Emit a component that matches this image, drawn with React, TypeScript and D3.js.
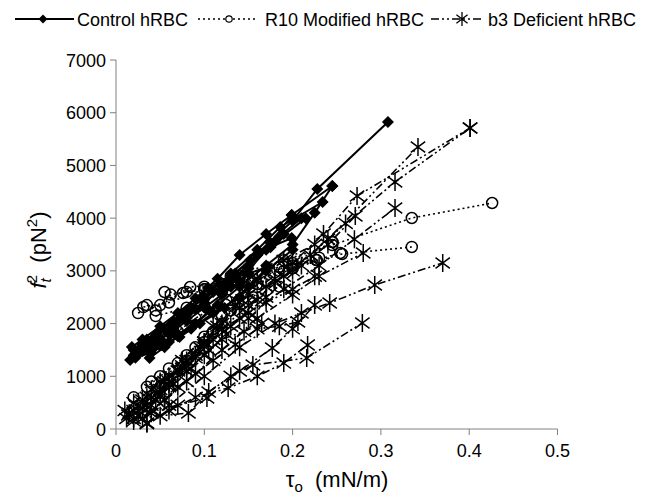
import React from "react";
import * as d3 from "d3";

type Pt = [number, number];

// Control hRBC series (tau_o in mN/m, f_t^2 in pN^2)
const controlSeries: Pt[][] = [
  [[0.018, 1556], [0.03, 1700], [0.05, 1950], [0.07, 2200], [0.09, 2480], [0.115, 2850], [0.14, 3301], [0.17, 3700], [0.199, 4060], [0.245, 4610]],
  [[0.016, 1309], [0.03, 1480], [0.045, 1680], [0.065, 1950], [0.09, 2280], [0.12, 2650], [0.15, 3050], [0.174, 3548], [0.2, 3950], [0.228, 4553], [0.308, 5824]],
  [[0.038, 1347], [0.055, 1550], [0.07, 1760], [0.09, 2000], [0.106, 2250], [0.13, 2700], [0.152, 3206], [0.175, 3450], [0.199, 3623]],
  [[0.02, 1500], [0.035, 1680], [0.055, 1900], [0.075, 2150], [0.1, 2500], [0.13, 2950], [0.16, 3400], [0.186, 3832], [0.234, 4306]],
  [[0.03, 1600], [0.045, 1780], [0.06, 1950], [0.08, 2250], [0.104, 2675], [0.13, 2850], [0.15, 2950], [0.172, 3073]],
  [[0.025, 1450], [0.04, 1600], [0.06, 1800], [0.08, 2050], [0.1, 2300], [0.12, 2550], [0.14, 2800], [0.17, 3400], [0.199, 4060]],
  [[0.04, 1500], [0.055, 1620], [0.072, 1745], [0.095, 2000], [0.123, 2295], [0.15, 2700], [0.172, 3073]],
  [[0.02, 1400], [0.035, 1550], [0.05, 1700], [0.065, 1900], [0.08, 2100], [0.1, 2450], [0.13, 2900], [0.16, 3300], [0.19, 3700]],
  [[0.035, 1700], [0.05, 1880], [0.065, 2050], [0.085, 2300], [0.11, 2600], [0.135, 2950], [0.16, 3300], [0.185, 3650], [0.21, 4000]],
  [[0.05, 1600], [0.07, 1800], [0.09, 2000], [0.115, 2350], [0.14, 2700], [0.17, 3100], [0.2, 3500], [0.225, 4100], [0.245, 4610]],
  [[0.022, 1350], [0.04, 1450], [0.06, 1650], [0.085, 1900], [0.11, 2200], [0.14, 2500], [0.17, 3000], [0.2, 3400]],
  [[0.028, 1550], [0.045, 1750], [0.07, 2050], [0.1, 2400], [0.125, 2750], [0.15, 3100], [0.18, 3550], [0.215, 4000]],
];

// R10 Modified hRBC series
const r10Series: Pt[][] = [
  [[0.031, 2314], [0.06, 2400], [0.1, 2650], [0.13, 2900], [0.19, 3200], [0.245, 3490], [0.335, 4003], [0.426, 4287]],
  [[0.045, 2143], [0.08, 2300], [0.12, 2600], [0.15, 2800], [0.2, 3050], [0.256, 3320], [0.335, 3453]],
  [[0.055, 2599], [0.076, 2580], [0.1, 2700], [0.14, 2900], [0.185, 3073], [0.227, 3206], [0.254, 3339]],
  [[0.025, 2200], [0.05, 2350], [0.084, 2694], [0.12, 2750], [0.154, 2789], [0.2, 3150], [0.245, 3548]],
  [[0.035, 2350], [0.045, 2250], [0.062, 2550], [0.08, 2600], [0.1, 2650], [0.14, 2850], [0.2, 3100], [0.23, 3250]],
  [[0.05, 800], [0.08, 1300], [0.1, 1650], [0.12, 2000], [0.138, 2400], [0.16, 2750], [0.185, 3073]],
  [[0.04, 900], [0.06, 1150], [0.08, 1400], [0.1, 1750], [0.12, 2150], [0.154, 2789], [0.19, 3000], [0.227, 3206]],
  [[0.05, 1600], [0.07, 1850], [0.09, 2100], [0.125, 2450], [0.16, 2750], [0.2, 3050], [0.245, 3548]],
  [[0.02, 600], [0.035, 800], [0.05, 1000], [0.07, 1250], [0.09, 1550], [0.11, 1850], [0.13, 2250], [0.155, 2500], [0.185, 2700]],
];

// b3 Deficient hRBC series
const b3Series: Pt[][] = [
  [[0.015, 300], [0.03, 550], [0.05, 900], [0.075, 1300], [0.11, 1950], [0.15, 2550], [0.2, 3150], [0.235, 3700], [0.273, 4420], [0.401, 5710]],
  [[0.02, 150], [0.04, 450], [0.06, 800], [0.09, 1350], [0.12, 1900], [0.15, 2350], [0.19, 2900], [0.24, 3600], [0.342, 5350]],
  [[0.03, 400], [0.05, 750], [0.07, 1100], [0.1, 1650], [0.14, 2300], [0.18, 2850], [0.22, 3300], [0.26, 3900], [0.316, 4686], [0.401, 5710]],
  [[0.025, 250], [0.05, 650], [0.08, 1200], [0.11, 1700], [0.15, 2200], [0.19, 2650], [0.23, 3100], [0.27, 3600], [0.316, 4192]],
  [[0.035, 450], [0.06, 850], [0.09, 1400], [0.13, 1950], [0.17, 2500], [0.21, 3100], [0.24, 3500], [0.271, 4040]],
  [[0.03, 200], [0.055, 550], [0.08, 900], [0.12, 1500], [0.16, 2100], [0.2, 2550], [0.23, 2900], [0.28, 3339]],
  [[0.035, 100], [0.06, 450], [0.1, 1000], [0.14, 1550], [0.18, 2000], [0.21, 2200], [0.242, 2390], [0.293, 2732], [0.37, 3149]],
  [[0.02, 200], [0.05, 250], [0.082, 304], [0.105, 700], [0.13, 1000], [0.155, 1214], [0.216, 1347], [0.279, 2011]],
  [[0.014, 266], [0.04, 350], [0.07, 450], [0.103, 588], [0.14, 1100], [0.177, 1536], [0.2, 1900], [0.225, 2352]],
  [[0.035, 114], [0.06, 350], [0.09, 600], [0.127, 778], [0.16, 1000], [0.19, 1250], [0.217, 1593]],
  [[0.01, 350], [0.03, 500], [0.05, 700], [0.075, 1150], [0.1, 1600], [0.12, 2000], [0.14, 2400], [0.17, 2700], [0.2, 3000]],
  [[0.04, 300], [0.055, 550], [0.07, 800], [0.09, 1050], [0.11, 1300], [0.135, 1600], [0.16, 1900], [0.185, 1950], [0.206, 2030]],
  [[0.02, 500], [0.04, 750], [0.06, 1000], [0.08, 1300], [0.1, 1650], [0.12, 1900], [0.14, 2100], [0.16, 2450], [0.18, 2800]],
  [[0.045, 550], [0.065, 850], [0.085, 1150], [0.105, 1500], [0.125, 1800], [0.15, 2100], [0.17, 2400], [0.2, 2650], [0.225, 2900]],
  [[0.012, 200], [0.025, 350], [0.04, 600], [0.06, 900], [0.08, 1100], [0.1, 1400], [0.12, 1700], [0.145, 1850], [0.165, 2000]],
  [[0.02, 350], [0.035, 600], [0.055, 900], [0.075, 1200], [0.095, 1550], [0.115, 1950], [0.135, 2350], [0.16, 2800], [0.19, 3200], [0.225, 3500]],
];

const xTicks = [0, 0.1, 0.2, 0.3, 0.4, 0.5];
const yTicks = [0, 1000, 2000, 3000, 4000, 5000, 6000, 7000];
const legendLabels = ["Control hRBC", "R10 Modified hRBC", "b3 Deficient hRBC"];

const W = 664;
const H = 494;
const FONT = "Arial, 'Liberation Sans', sans-serif";

const x = d3.scaleLinear().domain([0, 0.5]).range([116, 557.5]);
const y = d3.scaleLinear().domain([0, 7000]).range([429, 60]);

const line = d3
  .line<Pt>()
  .x((d) => x(d[0]))
  .y((d) => y(d[1]));

const diamond = (cx: number, cy: number, r = 6) =>
  `M${cx},${cy - r}L${cx + r},${cy}L${cx},${cy + r}L${cx - r},${cy}Z`;

const star = (cx: number, cy: number, r = 9) => {
  const dx = r * 0.8;
  const dy = r * 0.6;
  return `M${cx},${cy - r}L${cx},${cy + r}M${cx - dx},${cy - dy}L${cx + dx},${cy + dy}M${cx - dx},${cy + dy}L${cx + dx},${cy - dy}`;
};

const B3_DASH = "8,3,2,3,2,3";
const R10_DASH = "2,3";

export default function App() {
  return (
    <svg width={W} height={H} style={{ display: "block", position: "absolute", left: 0, top: 0 }} fontFamily={FONT}>
      <rect width={W} height={H} fill="#fff" />
      {/* axes */}
      <line x1={x(0)} x2={x(0)} y1={y(0)} y2={y(7000)} stroke="#808080" strokeWidth={1} />
      <line x1={x(0)} x2={x(0.5)} y1={y(0)} y2={y(0)} stroke="#808080" strokeWidth={1} />
      {yTicks.map((t) => (
        <g key={"y" + t}>
          <line x1={x(0) - 6} x2={x(0)} y1={y(t)} y2={y(t)} stroke="#808080" />
          <text x={x(0) - 10} y={y(t) + 6.5} textAnchor="end" fontSize={18} fill="#000">
            {t}
          </text>
        </g>
      ))}
      {xTicks.map((t) => (
        <g key={"x" + t}>
          <line x1={x(t)} x2={x(t)} y1={y(0)} y2={y(0) + 6} stroke="#808080" />
          <text x={x(t)} y={457} textAnchor="middle" fontSize={18} fill="#000">
            {t}
          </text>
        </g>
      ))}
      {/* axis titles */}
      <text x={337} y={487} textAnchor="middle" fontSize={22} fill="#000">
        <tspan>τ</tspan>
        <tspan fontSize={15} dy={5}>o</tspan>
        <tspan dy={-5}>{"\u00a0\u00a0(mN/m)"}</tspan>
      </text>
      <text transform={`translate(46,250) rotate(-90)`} textAnchor="middle" fontSize={22} fill="#000">
        <tspan fontStyle="italic">f</tspan>
        <tspan fontStyle="italic" fontSize={15} dy={5}>t</tspan>
        <tspan fontSize={15} dx={-5} dy={-14}>2</tspan>
        <tspan dy={9}>{"\u00a0\u00a0(pN"}</tspan>
        <tspan fontSize={15} dy={-9}>2</tspan>
        <tspan dy={9}>)</tspan>
      </text>

      {/* b3 series */}
      {b3Series.map((s, i) => (
        <g key={"b" + i}>
          <path d={line(s) || ""} fill="none" stroke="#000" strokeWidth={1.6} strokeDasharray={B3_DASH} />
          {s.map((p, j) => (
            <path key={j} d={star(x(p[0]), y(p[1]))} stroke="#000" strokeWidth={1.5} fill="none" />
          ))}
        </g>
      ))}
      {/* R10 series */}
      {r10Series.map((s, i) => (
        <g key={"r" + i}>
          <path d={line(s) || ""} fill="none" stroke="#000" strokeWidth={1.6} strokeDasharray={R10_DASH} />
          {s.map((p, j) => (
            <circle key={j} cx={x(p[0])} cy={y(p[1])} r={5.5} stroke="#000" strokeWidth={1.5} fill="none" />
          ))}
        </g>
      ))}
      {/* Control series */}
      {controlSeries.map((s, i) => (
        <g key={"c" + i}>
          <path d={line(s) || ""} fill="none" stroke="#000" strokeWidth={2} />
          {s.map((p, j) => (
            <path key={j} d={diamond(x(p[0]), y(p[1]))} fill="#000" />
          ))}
        </g>
      ))}

      {/* legend */}
      <g>
        <line x1={15} x2={74} y1={19} y2={19} stroke="#000" strokeWidth={1.8} />
        <path d={diamond(43, 19, 4.5)} fill="#000" />
        <text x={77} y={25.5} fontSize={18} fill="#000">{legendLabels[0]}</text>
        <line x1={198} x2={258} y1={19} y2={19} stroke="#000" strokeWidth={1.5} strokeDasharray={R10_DASH} />
        <circle cx={229} cy={19} r={3.2} stroke="#000" strokeWidth={1.2} fill="#fff" />
        <text x={265} y={25.5} fontSize={18} fill="#000">{legendLabels[1]}</text>
        <line x1={431} x2={484} y1={19} y2={19} stroke="#000" strokeWidth={1.5} strokeDasharray={B3_DASH} />
        <path d={star(462, 19, 7)} stroke="#000" strokeWidth={1.3} fill="none" />
        <text x={488} y={25.5} fontSize={18} fill="#000">{legendLabels[2]}</text>
      </g>
    </svg>
  );
}
